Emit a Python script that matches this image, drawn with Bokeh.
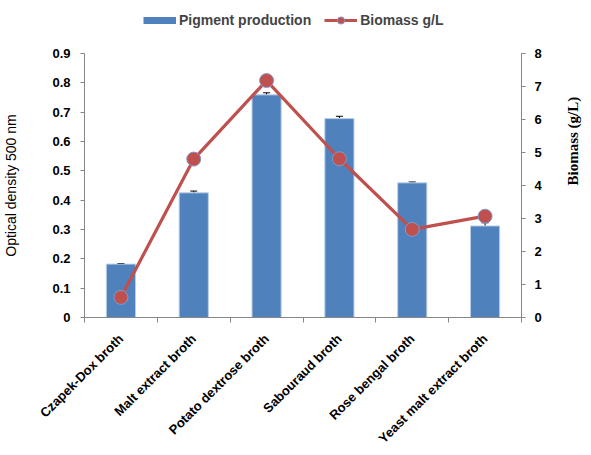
import math
from bokeh.plotting import figure
from bokeh.layouts import column
from bokeh.models import (ColumnDataSource, Range1d, LinearAxis, FixedTicker,
                          Whisker, TeeHead, Legend, LegendItem)
from bokeh.embed import file_html
from bokeh.resources import INLINE

categories = ["Czapek-Dox broth", "Malt extract broth", "Potato dextrose broth",
              "Sabouraud broth", "Rose bengal broth", "Yeast malt extract broth"]
pigment = [0.182, 0.425, 0.759, 0.678, 0.459, 0.312]
pigment_err = [0.002, 0.006, 0.007, 0.008, 0.003, 0.011]
biomass = [0.61, 4.80, 7.18, 4.81, 2.67, 3.07]
od_ticks = [round(i * 0.1, 1) for i in range(10)]
bio_ticks = list(range(9))
series_names = ["Pigment production", "Biomass g/L"]

BLUE = "#4F81BD"
RED = "#C0504D"
AXC = "#868686"

n = len(categories)
xc = [i + 0.5 for i in range(n)]

src = ColumnDataSource(dict(
    x=xc, pig=pigment,
    lo=[v - e for v, e in zip(pigment, pigment_err)],
    hi=[v + e for v, e in zip(pigment, pigment_err)],
    bio=biomass,
))

W = 591
LEG_H = 36

# ---- legend strip (its renderers use the real data, out of view) --------
lf = figure(width=W, height=LEG_H, x_range=Range1d(0, n), y_range=Range1d(100, 101),
            output_backend="svg", toolbar_location=None, title=None,
            x_axis_location=None, y_axis_location=None, min_border=0)
lf.grid.visible = False
lf.outline_line_color = None
l_bar = lf.line(x="x", y="pig", source=src, line_color=BLUE, line_width=7)
l_line = lf.line(x="x", y="bio", source=src, line_color=RED, line_width=3)
l_pt = lf.scatter(x="x", y="bio", source=src, fill_color=RED,
                  line_color="#7F9CCB", line_width=1)
legend = Legend(items=[LegendItem(label=series_names[0], renderers=[l_bar]),
                       LegendItem(label=series_names[1], renderers=[l_line, l_pt])],
                orientation="horizontal", location=(59, 7),
                glyph_width=33, glyph_height=18, label_standoff=3, spacing=13,
                label_text_font="Liberation Sans", label_text_font_style="bold",
                label_text_font_size="14px", label_height=18,
                padding=2, margin=0, border_line_color=None,
                background_fill_alpha=0)
lf.add_layout(legend)

# ---- main chart ---------------------------------------------------------
p = figure(width=W, height=455 - LEG_H,
           x_range=Range1d(0, n), y_range=Range1d(0, 0.9),
           output_backend="svg", toolbar_location=None,
           min_border_left=83, min_border_right=60,
           min_border_top=17, min_border_bottom=138)
p.grid.visible = False
p.outline_line_color = None
p.background_fill_color = "white"
p.border_fill_color = "white"

p.extra_y_ranges = {"bio": Range1d(0, 8)}

bars = p.vbar(x="x", top="pig", width=0.4, source=src,
              fill_color=BLUE, line_color="#B9CDE5", line_width=1)
wh = Whisker(base="x", lower="lo", upper="hi", source=src,
             line_color="black", line_width=1,
             upper_head=TeeHead(size=7, line_color="black", line_width=1),
             lower_head=TeeHead(size=7, line_color="black", line_width=1))
p.add_layout(wh)

ln = p.line(x="x", y="bio", source=src, y_range_name="bio",
            line_color=RED, line_width=3.2)
sc = p.scatter(x="x", y="bio", source=src, y_range_name="bio", size=14,
               fill_color=RED, line_color="#7F9CCB", line_width=1)

# x axis
xa = p.xaxis[0]
xa.ticker = FixedTicker(ticks=xc, minor_ticks=list(range(n + 1)))
xa.major_label_overrides = {x: c for x, c in zip(xc, categories)}
xa.major_label_orientation = math.pi / 4
xa.major_tick_line_color = None
xa.minor_tick_line_color = AXC
xa.minor_tick_in = 0
xa.minor_tick_out = 5
xa.axis_line_color = AXC
xa.major_label_text_font = "Liberation Sans"
xa.major_label_text_font_style = "bold"
xa.major_label_text_font_size = "13px"
xa.major_label_text_color = "black"
xa.major_label_standoff = 13

# left axis
ya = p.yaxis[0]
ya.ticker = FixedTicker(ticks=od_ticks)
ya.major_label_overrides = {0: "0"}
ya.axis_line_color = AXC
ya.major_tick_line_color = AXC
ya.major_tick_in = 0
ya.major_tick_out = 4
ya.minor_tick_line_color = None
ya.major_label_text_font = "Liberation Sans"
ya.major_label_text_font_style = "bold"
ya.major_label_text_font_size = "13px"
ya.major_label_text_color = "black"
ya.major_label_standoff = 10
ya.axis_label = "Optical density 500 nm"
ya.axis_label_text_font = "Liberation Sans"
ya.axis_label_text_font_style = "normal"
ya.axis_label_text_font_size = "14px"
ya.axis_label_text_color = "black"
ya.axis_label_standoff = 30

# right axis
ra = LinearAxis(y_range_name="bio", ticker=FixedTicker(ticks=bio_ticks))
ra.axis_line_color = AXC
ra.major_tick_line_color = AXC
ra.major_tick_in = 0
ra.major_tick_out = 4
ra.minor_tick_line_color = None
ra.major_label_text_font = "Liberation Sans"
ra.major_label_text_font_style = "bold"
ra.major_label_text_font_size = "13px"
ra.major_label_text_color = "black"
ra.major_label_standoff = 9
ra.axis_label = "Biomass (g/L)"
ra.axis_label_orientation = math.pi / 2
ra.axis_label_text_font = "Liberation Serif"
ra.axis_label_text_font_style = "bold"
ra.axis_label_text_font_size = "15px"
ra.axis_label_text_color = "black"
ra.axis_label_standoff = 28
p.add_layout(ra, "right")

layout = column(lf, p, spacing=0)
open("out.html", "w").write(file_html(layout, INLINE))
